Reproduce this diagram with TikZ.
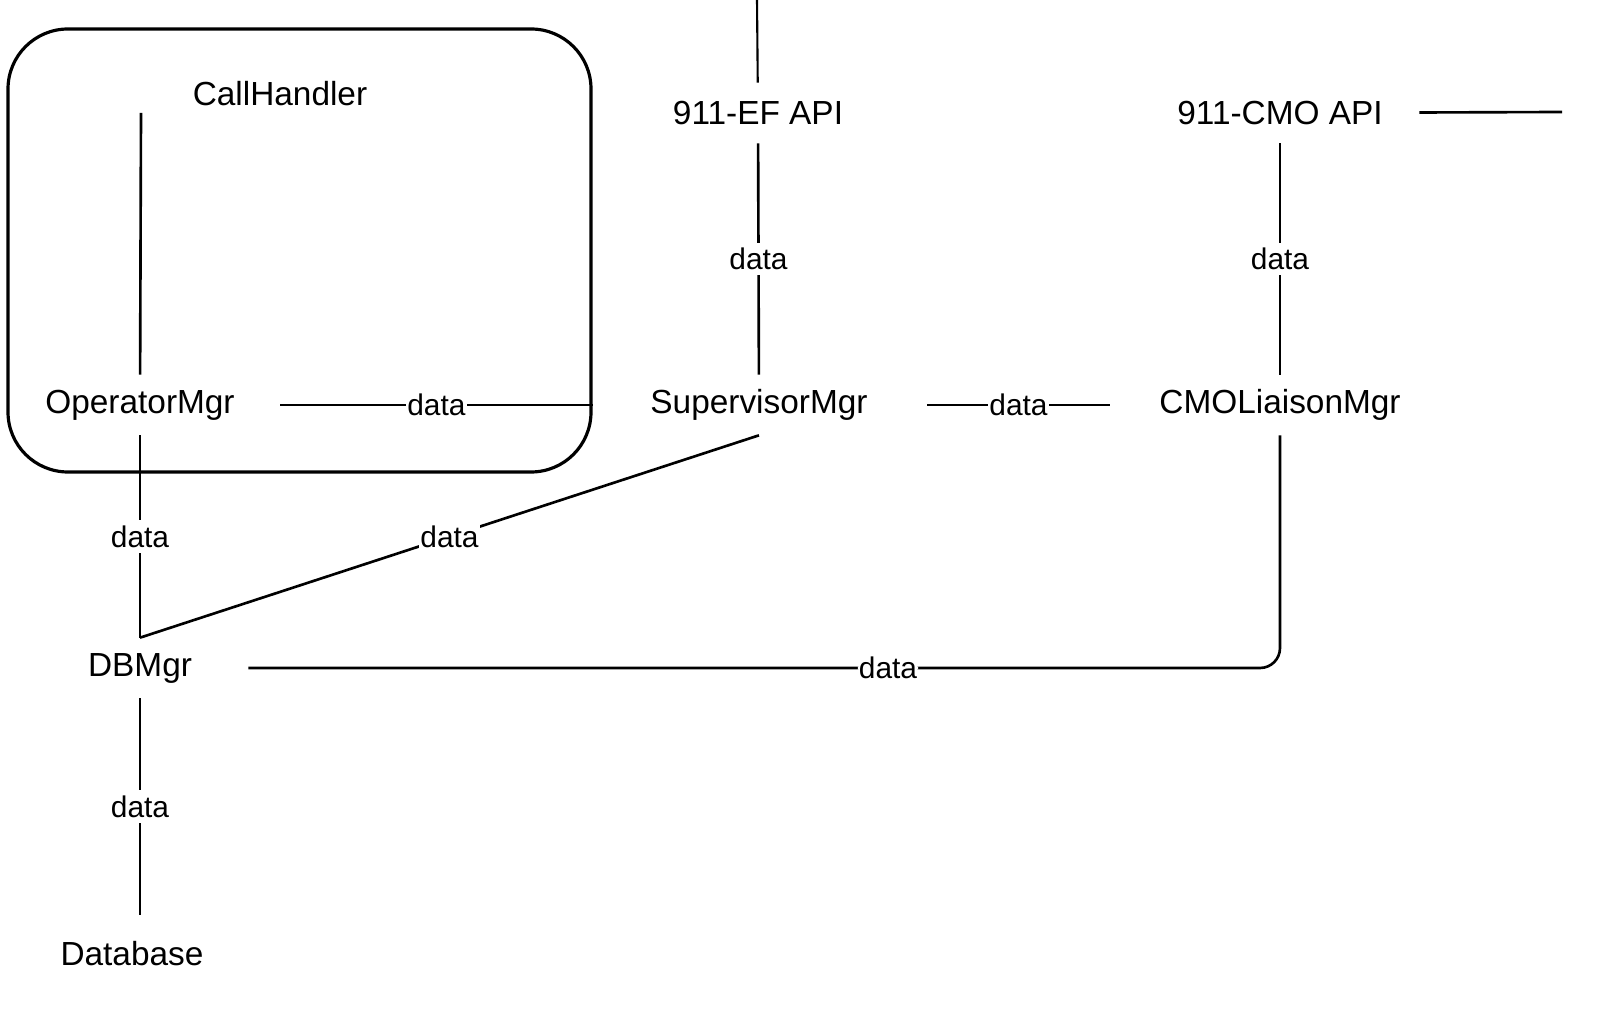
\documentclass[tikz,border=0pt]{standalone}
\usepackage{fontspec}
\setmainfont{Liberation Sans}
\usepackage{tikz}
\usetikzlibrary{calc,positioning}

\begin{document}
\begin{tikzpicture}[line width=0.75pt]
		\tikzstyle{comp}=[font=\fontsize{9.5}{11}\selectfont, inner sep=0pt, minimum height=0.58cm]
		\tikzstyle{lbl}=[font=\fontsize{8.5}{10}\selectfont, fill=white, inner xsep=0.3pt, inner ysep=1.5pt]
		\useasboundingbox (0,0) rectangle (16,10.22);

		\node[draw, line width=0.9pt, rounded corners=0.6cm, minimum width=5.83cm, minimum height=4.43cm] (Box) at (2.995,7.715) {};
		\node[comp] (CallH) at (2.80,9.28) {CallHandler};

		\node[comp, minimum width=2.78cm] (OpMgr) at (1.40,6.17) {OperatorMgr};
		\node[comp, minimum width=2.14cm] (DBMgr) at (1.40,3.54) {DBMgr};
		\node[comp, minimum height=0.76cm] (DBase) at (1.32,0.68) {Database};
		\node[comp, minimum width=3.34cm] (SupMgr) at (7.59,6.17) {SupervisorMgr};
		\node[comp, minimum width=3.38cm] (CMOMgr) at (12.80,6.17) {CMOLiaisonMgr};
		\node[comp] (EFAPI) at (7.58,9.09) {911-EF API};
		\node[comp, minimum width=2.76cm] (CMOAPI) at (12.80,9.09) {911-CMO API};

		\coordinate (CHout) at (1.41,9.09);
		\coordinate (EFin) at (7.57,10.22);
		\coordinate (CMOout) at (15.62,9.10);

		\draw (CHout) to (OpMgr);
		\draw (OpMgr.east) to node[lbl] {data} (OpMgr.east -| Box.east);
		\draw (OpMgr) to node[lbl] {data} (DBMgr);
		\draw (DBMgr.north) to node[lbl] {data} (SupMgr.south);
		\draw (DBMgr.south) to node[lbl] {data} (DBMgr.south |- DBase.north);
		\draw [rounded corners=0.2cm] (DBMgr.east) -| node[lbl, pos=0.31] {data} (CMOMgr.south);
		\draw (SupMgr) to node[lbl] {data} (CMOMgr);
		\draw [line width=0.6pt] (EFin) to (EFAPI);
		\draw (EFAPI) to node[lbl] {data} (SupMgr);
		\draw (CMOAPI) to node[lbl] {data} (CMOMgr);
		\draw (CMOAPI) to (CMOout);

\end{tikzpicture}
\end{document}
